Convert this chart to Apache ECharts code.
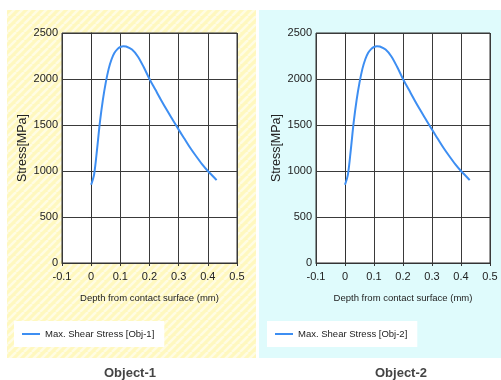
<!DOCTYPE html>
<html><head><meta charset="utf-8">
<script src="https://cdn.jsdelivr.net/npm/echarts@6/dist/echarts.min.js"></script>
<style>html,body{margin:0;padding:0;background:#fff}#c{width:501px;height:380px}</style>
</head><body><div id="c"></div>
<script>
const depth   = [0, 0.01, 0.02, 0.03, 0.04, 0.05, 0.06, 0.07, 0.08, 0.09, 0.1, 0.11, 0.12, 0.14, 0.16, 0.18, 0.2, 0.22, 0.24, 0.26, 0.28, 0.3, 0.32, 0.34, 0.36, 0.38, 0.4, 0.42, 0.43];
const stress1 = [850, 960, 1230, 1530, 1770, 1960, 2110, 2215, 2285, 2325, 2348, 2357, 2353, 2320, 2245, 2130, 2000, 1885, 1770, 1660, 1555, 1450, 1350, 1250, 1160, 1075, 1000, 935, 900];
const stress2 = [850, 960, 1230, 1530, 1770, 1960, 2110, 2215, 2285, 2325, 2348, 2357, 2353, 2320, 2245, 2130, 2000, 1885, 1770, 1660, 1555, 1450, 1350, 1250, 1160, 1075, 1000, 935, 900];
const seriesNames = ['Max. Shear Stress [Obj-1]', 'Max. Shear Stress [Obj-2]'];
const panelTitles = ['Object-1', 'Object-2'];

function stripePattern(){
  const c = document.createElement('canvas');
  c.width = 8; c.height = 8;
  const g = c.getContext('2d');
  g.fillStyle = '#fff8bf'; g.fillRect(0,0,8,8);
  g.strokeStyle = '#fffce4'; g.lineWidth = 2.5;
  for (let k=-8;k<=16;k+=8){ g.beginPath(); g.moveTo(k,8); g.lineTo(k+8,0); g.stroke(); }
  return {image: c, repeat: 'repeat'};
}

const chart = echarts.init(document.getElementById('c'), null, {renderer:'canvas'});
const lineColor = '#3d8ef2';
const axisCol = '#333';
const sans = '"Liberation Sans", Arial, sans-serif';

function xAx(i){ return {
  gridIndex:i, type:'value', min:-0.1, max:0.5, interval:0.1,
  name:'Depth from contact surface (mm)', nameLocation:'middle', nameGap:30,
  nameTextStyle:{fontFamily:sans, fontSize:9.5, color:'#222'},
  axisLine:{show:true, onZero:false, lineStyle:{color:axisCol}},
  axisTick:{show:true, length:3, lineStyle:{color:axisCol}},
  axisLabel:{fontFamily:sans, fontSize:11, color:'#222', margin:8,
    formatter:v=>{const r=Math.round(v*10)/10; return r===0?'0':String(r);}},
  splitLine:{show:true, lineStyle:{color:'#3a3a3a', width:1}}
};}
function yAx(i){ return {
  gridIndex:i, type:'value', min:0, max:2500, interval:500,
  name:'Stress[MPa]', nameLocation:'middle', nameGap:33,
  nameTextStyle:{fontFamily:sans, fontSize:12.5, color:'#222'},
  axisLine:{show:true, lineStyle:{color:axisCol}},
  axisTick:{show:true, length:3, lineStyle:{color:axisCol}},
  axisLabel:{fontFamily:sans, fontSize:11, color:'#222', margin:4, formatter:v=>String(v)},
  splitLine:{show:true, lineStyle:{color:'#3a3a3a', width:1}}
};}

chart.setOption({
  animation:false,
  backgroundColor:'#fff',
  graphic:[
    {type:'rect', z:-10, shape:{x:7, y:10, width:249, height:348}, style:{fill:stripePattern()}, silent:true},
    {type:'rect', z:-10, shape:{x:259, y:10, width:242, height:348}, style:{fill:'#dffbfc'}, silent:true}
  ],
  title:[
    {text:panelTitles[0], left:130, top:367, textAlign:'center', textStyle:{fontFamily:sans, fontSize:13, fontWeight:'bold', color:'#444'}, padding:0},
    {text:panelTitles[1], left:401, top:367, textAlign:'center', textStyle:{fontFamily:sans, fontSize:13, fontWeight:'bold', color:'#444'}, padding:0}
  ],
  grid:[
    {left:62, right:264, top:33, bottom:117, show:true, backgroundColor:'#fff', borderColor:axisCol, borderWidth:1},
    {left:316, right:11, top:33, bottom:117, show:true, backgroundColor:'#fff', borderColor:axisCol, borderWidth:1}
  ],
  xAxis:[xAx(0), xAx(1)],
  yAxis:[yAx(0), yAx(1)],
  legend:[
    {data:[seriesNames[0]], left:14, top:321, backgroundColor:'#fff', padding:[8,10,8,8],
     icon:'rect', itemWidth:18, itemHeight:2, itemGap:4,
     textStyle:{fontFamily:sans, fontSize:9.5, color:'#222'}},
    {data:[seriesNames[1]], left:267, top:321, backgroundColor:'#fff', padding:[8,10,8,8],
     icon:'rect', itemWidth:18, itemHeight:2, itemGap:4,
     textStyle:{fontFamily:sans, fontSize:9.5, color:'#222'}}
  ],
  series:[
    {name:seriesNames[0], type:'line', xAxisIndex:0, yAxisIndex:0, smooth:0.3, showSymbol:false,
     data:depth.map((d,i)=>[d, stress1[i]]), lineStyle:{color:lineColor, width:2}, itemStyle:{color:lineColor}},
    {name:seriesNames[1], type:'line', xAxisIndex:1, yAxisIndex:1, smooth:0.3, showSymbol:false,
     data:depth.map((d,i)=>[d, stress2[i]]), lineStyle:{color:lineColor, width:2}, itemStyle:{color:lineColor}}
  ]
});
</script></body></html>
